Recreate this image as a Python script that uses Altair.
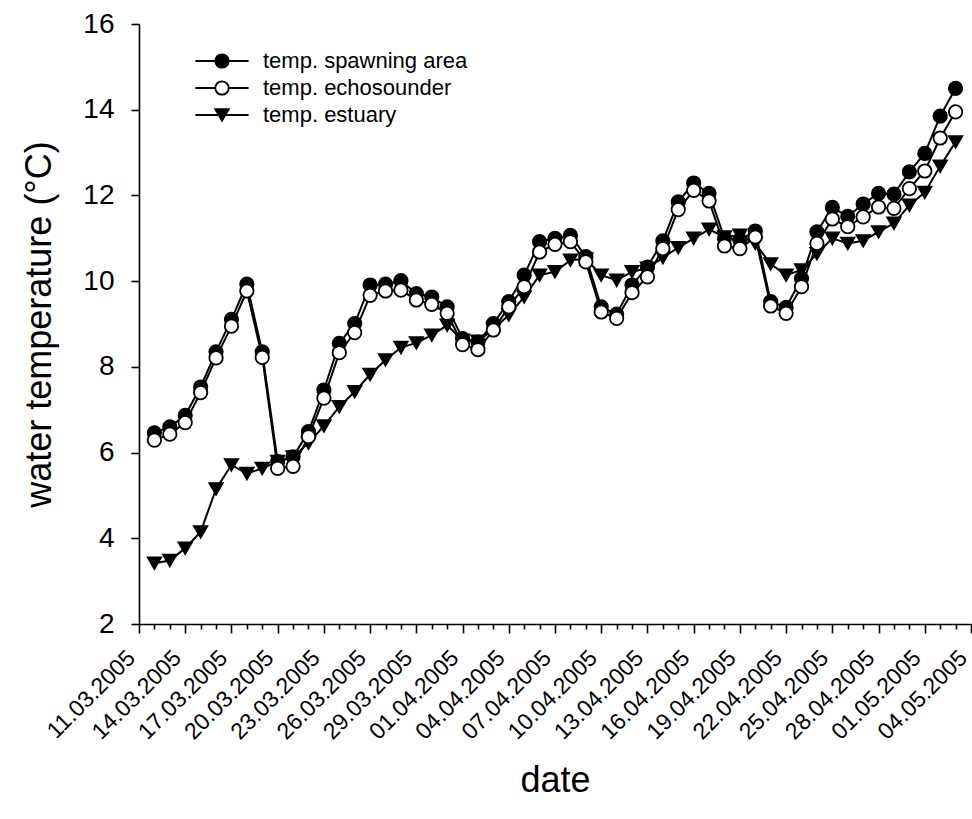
import altair as alt
import pandas as pd

# daily measurements, 12.03.2005 - 03.05.2005; axis starts on 11.03.2005
axis_start = pd.Timestamp("2005-03-11")
dates = pd.date_range("2005-03-12", "2005-05-03", freq="D")
axis_days = 54  # 11.03.2005 .. 04.05.2005

spawning = [6.46, 6.60, 6.87, 7.53, 8.35, 9.11, 9.93, 8.35, 5.79, 5.90,
            6.49, 7.46, 8.55, 9.01, 9.91, 9.93, 10.01, 9.71, 9.63, 9.40,
            8.66, 8.58, 9.01, 9.52, 10.14, 10.92, 11.00, 11.07, 10.57, 9.40,
            9.23, 9.91, 10.33, 10.94, 11.85, 12.29, 12.05, 11.00, 10.96, 11.17,
            9.52, 9.39, 10.06, 11.15, 11.72, 11.51, 11.80, 12.05, 12.03, 12.55,
            12.98, 13.85, 14.50]
echosounder = [6.29, 6.43, 6.70, 7.40, 8.21, 8.95, 9.77, 8.22, 5.63, 5.68,
               6.37, 7.27, 8.33, 8.80, 9.67, 9.77, 9.79, 9.56, 9.46, 9.25,
               8.52, 8.40, 8.86, 9.40, 9.87, 10.68, 10.86, 10.92, 10.45, 9.28,
               9.13, 9.73, 10.10, 10.76, 11.67, 12.12, 11.87, 10.82, 10.76, 11.03,
               9.42, 9.25, 9.87, 10.88, 11.45, 11.27, 11.50, 11.73, 11.70, 12.16,
               12.57, 13.34, 13.95]
estuary = [3.42, 3.48, 3.77, 4.15, 5.15, 5.71, 5.51, 5.63, 5.79, 5.90,
           6.22, 6.62, 7.07, 7.42, 7.82, 8.16, 8.45, 8.56, 8.74, 8.97,
           8.62, 8.60, 8.88, 9.21, 9.63, 10.14, 10.22, 10.49, 10.52, 10.14,
           10.02, 10.22, 10.30, 10.55, 10.78, 11.00, 11.21, 11.03, 11.07, 10.88,
           10.40, 10.14, 10.26, 10.64, 11.00, 10.88, 10.94, 11.15, 11.35, 11.77,
           12.07, 12.68, 13.25]

series_names = ["temp. spawning area", "temp. echosounder", "temp. estuary"]
series_values = dict(zip(series_names, [spawning, echosounder, estuary]))
marker_shape = dict(zip(series_names, ["circle", "circle", "triangle-down"]))
marker_fill = dict(zip(series_names, ["black", "white", "black"]))
draw_order = ["temp. estuary", "temp. spawning area", "temp. echosounder"]
y_ticks = [2, 4, 6, 8, 10, 12, 14, 16]

day_index = [(d - axis_start).days for d in dates]
rows = []
for name in draw_order:
    for d, v in zip(day_index, series_values[name]):
        rows.append({"day": d, "temp": v, "series": name})
df = pd.DataFrame(rows)

FONT = "Liberation Sans"

x_enc = alt.X(
    "day:Q",
    scale=alt.Scale(domain=[0, axis_days], nice=False, zero=False),
    axis=alt.Axis(
        values=list(range(axis_days + 1)),
        title="date",
        labelExpr="datum.value % 3 == 0 ? timeFormat(datetime(2005, 2, 11 + datum.value), '%d.%m.%Y') : ''",
        labelAngle=-45,
        labelAlign="right",
        labelBaseline="middle",
        labelFontSize=23,
        labelPadding=21,
        labelOffset=-8,
        labelOverlap=False,
        labelFlush=False,
        labelBound=False,
        tickSize={"condition": {"test": "datum.value % 3 == 0", "value": 9}, "value": 5},
        titleFontSize=36,
        titlePadding=20,
        grid=False,
    ),
)
y_enc = alt.Y(
    "temp:Q",
    scale=alt.Scale(domain=[2, 16], nice=False, zero=False),
    axis=alt.Axis(
        values=y_ticks,
        title="water temperature (°C)",
        labelFontSize=28,
        labelPadding=17,
        tickSize=8,
        titleFontSize=36,
        titlePadding=24,
        grid=False,
    ),
)

layers = []
for name in draw_order:
    sub = alt.Chart(df).transform_filter(alt.datum.series == name)
    layers.append(sub.mark_line(color="black", strokeWidth=2).encode(x=x_enc, y=y_enc))
    layers.append(
        sub.mark_point(
            shape=marker_shape[name], filled=True, fill=marker_fill[name],
            size=180, stroke="black", strokeWidth=1.8, opacity=1,
        ).encode(x=x_enc, y=y_enc)
    )

# legend symbols: a line segment with the series marker in its middle
seg = "M -3.8 0 L -0.96 0 M 0.96 0 L 3.8 0 "
circ = "M 0.96 0 A 0.96 0.96 0 1 1 -0.96 0 A 0.96 0.96 0 1 1 0.96 0 Z"
tri = "M -3.8 0 L 3.8 0 M 0 0.83 L -0.96 -0.83 L 0.96 -0.83 Z"
legend_shapes = [seg + circ, seg + circ, tri]

legend_cfg = alt.Legend(
    title=None,
    orient="none",
    legendX=72,
    legendY=26,
    symbolSize=196,
    symbolStrokeWidth=1.8,
    symbolOpacity=1,
    labelOffset=30,
    labelFontSize=22,
    labelFont=FONT,
    labelColor="black",
    labelLimit=400,
    rowPadding=5,
    padding=0,
)
legend_layer = alt.Chart(df).transform_filter("false").mark_point(
    filled=False, opacity=1, strokeWidth=1.8
).encode(
    shape=alt.Shape("series:N", scale=alt.Scale(domain=series_names, range=legend_shapes), legend=legend_cfg),
    fill=alt.Fill("series:N", scale=alt.Scale(domain=series_names, range=[marker_fill[n] for n in series_names]),
                  legend=legend_cfg),
    stroke=alt.Stroke("series:N", scale=alt.Scale(domain=series_names, range=["black", "black", "black"]),
                      legend=legend_cfg),
)
layers.append(legend_layer)

chart = (
    alt.layer(*layers)
    .properties(
        width=832,
        height=600,
        autosize=alt.AutoSizeParams(type="none"),
        padding={"left": 139, "top": 24, "right": 1, "bottom": 195},
        background="white",
    )
    .configure_view(stroke=None)
    .configure_axis(
        domainColor="black",
        domainWidth=1.6,
        tickColor="black",
        tickWidth=1.6,
        labelColor="black",
        titleColor="black",
        labelFont=FONT,
        titleFont=FONT,
        titleFontWeight="normal",
    )
)

chart.save("out.html", embed_options={"renderer": "svg", "actions": False})
